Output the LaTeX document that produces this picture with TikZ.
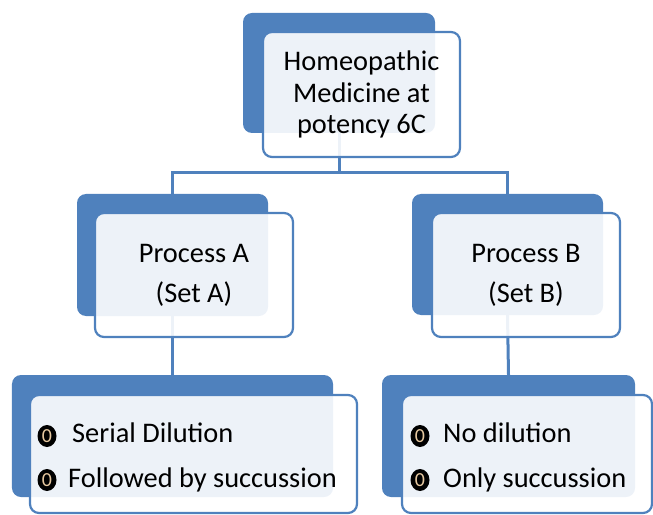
\documentclass[tikz,border=0pt]{standalone}
\usepackage{fontspec}
\setmainfont{Carlito}
\usetikzlibrary{shapes.geometric}
\definecolor{ofblue}{HTML}{4F81BD}
\definecolor{bulcol}{HTML}{E6C8A0}
\begin{document}
\begin{tikzpicture}[x=1bp,y=-1bp,
  backbox/.style={draw=none, fill=ofblue, rounded corners=9bp, inner sep=0pt},
  frontbox/.style={draw=ofblue, line width=2.2bp, fill=white, fill opacity=0.9, text opacity=1,
    rounded corners=9bp, inner sep=0pt, align=center, text=black},
  link/.style={draw=ofblue, line width=3bp},
  bigtext/.style={font=\fontsize{28.5}{32}\selectfont},
  proctext/.style={font=\fontsize{28.5}{40}\selectfont},
  itemtext/.style={font=\fontsize{28.5}{32}\selectfont, anchor=base west, inner sep=0pt, text=black},
  bulletmark/.style={ellipse, fill=black, minimum width=19bp, minimum height=22bp, inner sep=0pt,
    text=bulcol, font=\fontsize{20}{20}\selectfont}
]
\useasboundingbox (0,0) rectangle (653,515);

% back boxes
\node[backbox, minimum width=192bp, minimum height=120bp] (Tb) at (339,73) {};
\node[backbox, minimum width=191bp, minimum height=122bp] (Ab) at (172.5,255) {};
\node[backbox, minimum width=191bp, minimum height=121bp] (Bb) at (507.5,254.5) {};
\node[backbox, minimum width=321bp, minimum height=122bp] (Cb) at (172.5,436) {};
\node[backbox, minimum width=253bp, minimum height=122bp] (Db) at (508.5,436) {};

% connectors
\coordinate (hb) at (339,173);
\draw[link] (Tb.south) -- (hb);
\draw[link] (Ab.north) |- (hb) -| (Bb.north);
\draw[link] (Ab.south) -- (Cb.north);
\draw[link] (Bb.south) -- (Db.north);

% front boxes
\node[frontbox, bigtext, minimum width=197bp, minimum height=125bp] (Tf) at (361.5,94.5)
  {Homeopathic\\Medicine at\\potency 6C};
\node[frontbox, proctext, minimum width=198bp, minimum height=124bp] (Af) at (194,275)
  {Process A\\(Set A)};
\node[frontbox, proctext, minimum width=188bp, minimum height=124bp] (Bf) at (526,275)
  {Process B\\(Set B)};
\node[frontbox, minimum width=327bp, minimum height=118bp] (Cf) at (193.5,454) {};
\node[frontbox, minimum width=250bp, minimum height=118bp] (Df) at (527,454) {};

% bullet items
\node[bulletmark] (c1b) at (47,436) {0};
\node[itemtext] (c1t) at (72,442) {Serial Dilution};
\node[bulletmark] (c2b) at (47,480) {0};
\node[itemtext] (c2t) at (68,487) {Followed by succussion};
\node[bulletmark] (d1b) at (420,436) {0};
\node[itemtext] (d1t) at (443,442) {No dilution};
\node[bulletmark] (d2b) at (420,480) {0};
\node[itemtext] (d2t) at (443,487) {Only succussion};
\end{tikzpicture}
\end{document}
